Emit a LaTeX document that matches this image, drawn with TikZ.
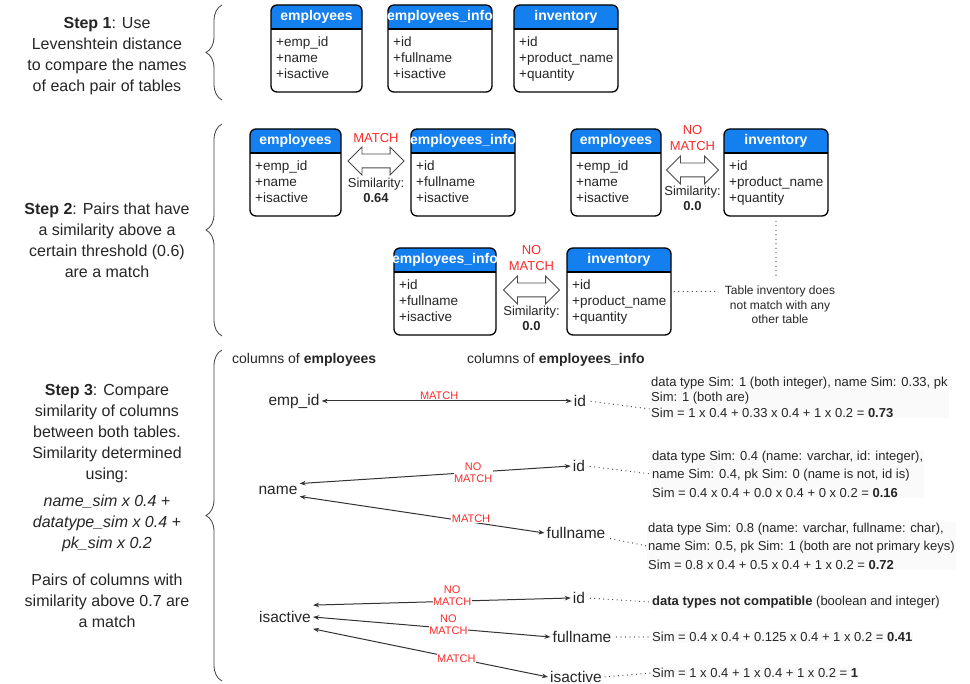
\documentclass[tikz,border=0pt]{standalone}
\usepackage{fontspec}
\setmainfont{Liberation Sans}
\usepackage{tikz}
\usetikzlibrary{shapes.arrows,arrows.meta,calc,fit,positioning,decorations.pathreplacing}
\usepackage{xcolor}

\definecolor{tblblue}{RGB}{20,128,240}
\definecolor{matchred}{RGB}{250,45,45}
\definecolor{linegray}{RGB}{51,51,51}
\definecolor{notebg}{RGB}{250,250,250}

% table: name, top left corner, width, title, columns
\newcommand{\dbtable}[5]{%
  \coordinate (#1-nw) at (#2);
  \coordinate (#1-se) at ($(#2)+(#3,87)$);
  \fill[tblblue,rounded corners=6] (#1-nw) rectangle ($(#1-nw)+(#3,24)$);
  \fill[tblblue] ($(#1-nw)+(0,12)$) rectangle ($(#1-nw)+(#3,24)$);
  \draw[tblline] ($(#1-nw)+(0,24)$) -- ++(#3,0);
  \draw[tblline,rounded corners=6] (#1-nw) rectangle (#1-se);
  \node[tbltitle] (#1-title) at ($(#1-nw)+(#3/2,12)$) {#4};
  \node[tblrows] (#1-rows) at ($(#1-nw)+(5,32)$) {#5};
  \node[fit=(#1-nw)(#1-se),inner sep=0pt] (#1) {};
}

\begin{document}
\begin{tikzpicture}[
	  x=1pt,y=-1pt,
	  every node/.style={text=black!85},
	  tblline/.style={draw=black,line width=1.3pt},
	  tbltitle/.style={text=white,font=\fontsize{14}{16}\bfseries,inner sep=0pt},
	  tblrows/.style={anchor=north west,align=left,font=\fontsize{13.5}{16}\selectfont,inner sep=0pt},
	  steptext/.style={align=center,font=\fontsize{16}{21}\selectfont},
	  stepbrace/.style={decorate,decoration={brace,amplitude=16pt},draw=black!75,line width=0.8pt},
	  pairarrow/.style={double arrow,draw=black!70,fill=white,line width=0.8pt,minimum height=56pt,inner xsep=0pt,inner ysep=6.5pt,double arrow head extend=7pt},
	  pairlabel/.style={text=matchred,align=center,font=\fontsize{13}{16}\selectfont,inner sep=0pt},
	  simlabel/.style={align=center,font=\fontsize{13}{15}\selectfont,inner sep=0pt},
	  colhead/.style={anchor=west,font=\fontsize{14}{16}\selectfont,inner sep=0pt},
	  colname/.style={font=\fontsize{15.5}{18}\selectfont,inner sep=2pt},
	  colarrow/.style={{Stealth[length=6pt,width=4.5pt]}-{Stealth[length=6pt,width=4.5pt]},draw=linegray,line width=1pt},
	  matchlabel/.style={text=matchred,fill=white,align=center,font=\fontsize{11}{12}\selectfont,inner sep=0.5pt},
	  simnote/.style={anchor=west,align=left,fill=notebg,font=\fontsize{13}{15.5}\selectfont,inner sep=1pt},
	  dotline/.style={draw=linegray,line width=1.2pt,dash pattern=on 0pt off 4.5pt,line cap=round}]

	  \fill[white] (0,0) rectangle (970,684);
	  \useasboundingbox (0,0) rectangle (970,684);

	  % Step 1
	  \node[steptext] (step1) at (107,56) {\textbf{Step 1}: Use\\Levenshtein distance\\to compare the names\\of each pair of tables};
	  \draw[stepbrace] (222,100) -- (222,5);
	  \dbtable{emp1}{271,5}{91}{employees}{+emp\_id\\+name\\+isactive}
	  \dbtable{info1}{388,5}{104}{employees\_info}{+id\\+fullname\\+isactive}
	  \dbtable{inv1}{514,5}{104}{inventory}{+id\\+product\_name\\+quantity}

	  % Step 2
	  \node[steptext] (step2) at (107,240) {\textbf{Step 2}: Pairs that have\\a similarity above a\\certain threshold (0.6)\\are a match};
	  \draw[stepbrace] (222,336) -- (222,124);
	  \dbtable{emp2a}{250,129}{91}{employees}{+emp\_id\\+name\\+isactive}
	  \dbtable{info2a}{411,129}{104}{employees\_info}{+id\\+fullname\\+isactive}
	  \dbtable{emp2b}{571,129}{90}{employees}{+emp\_id\\+name\\+isactive}
	  \dbtable{inv2b}{724,129}{104}{inventory}{+id\\+product\_name\\+quantity}
	  \dbtable{info2c}{394,248}{102}{employees\_info}{+id\\+fullname\\+isactive}
	  \dbtable{inv2c}{567,248}{104}{inventory}{+id\\+product\_name\\+quantity}

	  \node[pairarrow,yshift=11.5pt] (arr2a) at ($(emp2a.east)!0.5!(info2a.west)$) {};
	  \node[pairlabel,above=11pt of arr2a] (lbl2a) {MATCH};
	  \node[simlabel,below=10pt of arr2a] (sim2a) {Similarity:\\\textbf{0.64}};
	  \node[pairarrow,yshift=2.5pt,minimum height=52pt] (arr2b) at ($(emp2b.east)!0.5!(inv2b.west)$) {};
	  \node[pairlabel,above=12pt of arr2b] (lbl2b) {NO\\MATCH};
	  \node[simlabel,below=9pt of arr2b] (sim2b) {Similarity:\\\textbf{0.0}};
	  \node[pairarrow,yshift=1.5pt] (arr2c) at ($(info2c.east)!0.5!(inv2c.west)$) {};
	  \node[pairlabel,above=12pt of arr2c] (lbl2c) {NO\\MATCH};
	  \node[simlabel,below=9pt of arr2c] (sim2c) {Similarity:\\\textbf{0.0}};

	  \node[align=center,font=\fontsize{12}{14.5}\selectfont,inner sep=2pt] (invnote) at (780,305) {Table inventory does\\not match with any\\other table};
	  \draw[dotline,shorten <=5pt,shorten >=8pt] (inv2b.south) -- (inv2b.south |- invnote.north);
	  \draw[dotline,shorten <=3pt,shorten >=4pt] (inv2c.east) -- (inv2c.east -| invnote.west);

	  % Step 3
	  \node[steptext,anchor=north,inner sep=0pt] (step3) at (107,384) {\textbf{Step 3}: Compare\\similarity of columns\\between both tables.\\Similarity determined\\using:\\[6pt]
	    \textit{name\_sim x 0.4 +}\\\textit{datatype\_sim x 0.4 +}\\\textit{pk\_sim x 0.2}\\[16pt]
	    Pairs of columns with\\similarity above 0.7 are\\a match};
	  \draw[stepbrace] (222,681) -- (222,350);

	  \node[colhead] (heademp) at (232,360) {columns of \textbf{employees}};
	  \node[colhead] (headinfo) at (467,360) {columns of \textbf{employees\_info}};

	  \node[colname] (c-empid) at (294,401) {emp\_id};
	  \node[colname] (c-name) at (278,490) {name};
	  \node[colname] (c-isactive) at (285,617) {isactive};

	  \node[colname] (t-id1) at (580,401) {id};
	  \node[colname] (t-id2) at (579,466) {id};
	  \node[colname] (t-full1) at (576,533) {fullname};
	  \node[colname] (t-id3) at (579,598) {id};
	  \node[colname] (t-full2) at (582,637) {fullname};
	  \node[colname] (t-isact) at (576,677) {isactive};

	  \draw[colarrow] (c-empid.east) -- node[matchlabel,pos=0.47,yshift=5pt] {MATCH} (t-id1.west);
	  \draw[colarrow] (c-name.north east) -- node[matchlabel,pos=0.64] {NO\\MATCH} (t-id2.west);
	  \draw[colarrow] (c-name.south east) -- node[matchlabel,pos=0.7,yshift=3pt] {MATCH} (t-full1.west);
	  \draw[colarrow] ([yshift=4pt]c-isactive.north east) -- node[matchlabel,pos=0.54,yshift=6pt] {NO\\MATCH} (t-id3.west);
	  \draw[colarrow] (c-isactive.east) -- node[matchlabel,pos=0.57,yshift=4pt] {NO\\MATCH} (t-full2.west);
	  \draw[colarrow] ([yshift=-4pt]c-isactive.south east) -- node[matchlabel,pos=0.61] {MATCH} (t-isact.west);

	  \node[simnote] (n1) at (650,397) {data type Sim: 1 (both integer), name Sim: 0.33, pk\\Sim: 1 (both are)\\Sim = 1 x 0.4 + 0.33 x 0.4 + 1 x 0.2 = \textbf{0.73}};
	  \node[simnote,font=\fontsize{13}{18.5}\selectfont] (n2) at (651,474) {data type Sim: 0.4 (name: varchar, id: integer),\\name Sim: 0.4, pk Sim: 0 (name is not, id is)\\Sim = 0.4 x 0.4 + 0.0 x 0.4 + 0 x 0.2 = \textbf{0.16}};
	  \node[simnote,font=\fontsize{13}{18.5}\selectfont] (n3) at (647,546) {data type Sim: 0.8 (name: varchar, fullname: char),\\name Sim: 0.5, pk Sim: 1 (both are not primary keys)\\Sim = 0.8 x 0.4 + 0.5 x 0.4 + 1 x 0.2 = \textbf{0.72}};
	  \node[simnote] (n4) at (651,602) {\textbf{data types not compatible} (boolean and integer)};
	  \node[simnote] (n5) at (651,637) {Sim = 0.4 x 0.4 + 0.125 x 0.4 + 1 x 0.2 = \textbf{0.41}};
	  \node[simnote] (n6) at (651,673) {Sim = 1 x 0.4 + 1 x 0.4 + 1 x 0.2 = \textbf{1}};

	  \draw[dotline,shorten <=3pt] (t-id1.east) -- ([yshift=-12pt]n1.west);
	  \draw[dotline,shorten <=3pt] (t-id2.east) -- (n2.west);
	  \draw[dotline,shorten <=3pt] ([yshift=-5pt]t-full1.east) -- (n3.west);
	  \draw[dotline,shorten <=3pt] (t-id3.east) -- (n4.west);
	  \draw[dotline,shorten <=3pt] (t-full2.east) -- (n5.west);
	  \draw[dotline,shorten <=1pt] (t-isact.east) -- (n6.west);

\end{tikzpicture}
\end{document}
